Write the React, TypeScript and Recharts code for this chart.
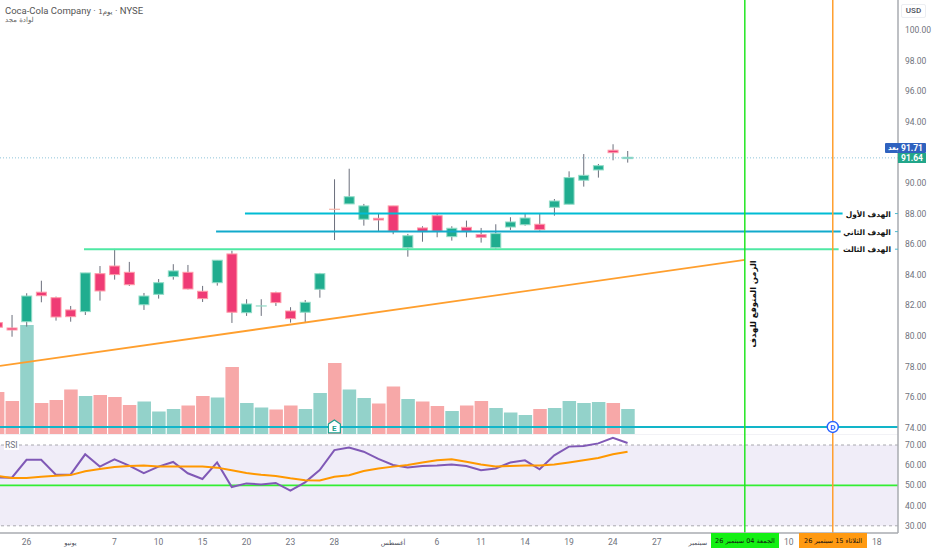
import React from 'react';
import {
  ComposedChart,
  Bar,
  Line,
  XAxis,
  YAxis,
  ReferenceLine,
  ReferenceArea,
  ReferenceDot,
} from 'recharts';

const opens = [80.87, 80.52, 80.93, 82.86, 82.50, 81.70, 81.59, 84.07, 84.57, 84.16, 82.04, 82.72, 83.88, 84.16, 82.92, 83.48, 85.36, 81.52, 81.91, 82.83, 81.63, 81.55, 83.05, 88.28, 88.63, 87.63, 87.69, 88.50, 85.77, 87.06, 87.86, 86.49, 87.10, 86.62, 85.77, 87.12, 87.27, 87.30, 88.41, 88.61, 90.18, 90.85, 92.14, 91.59];
const highs = [81.04, 81.37, 82.79, 83.61, 82.57, 81.96, 84.12, 84.57, 85.69, 84.84, 82.81, 83.72, 84.69, 84.64, 83.27, 84.95, 85.57, 82.40, 82.40, 82.89, 81.88, 82.35, 84.12, 90.24, 90.93, 88.63, 88.02, 88.50, 86.67, 87.17, 87.97, 87.17, 87.54, 87.06, 87.30, 87.76, 88.02, 88.02, 88.95, 90.76, 91.89, 91.24, 92.53, 92.09];
const lows = [80.39, 79.95, 80.61, 82.20, 81.00, 80.93, 81.37, 82.31, 83.68, 83.27, 81.70, 82.44, 83.68, 83.04, 82.22, 83.29, 80.85, 81.31, 81.31, 81.96, 80.87, 80.89, 82.50, 86.27, 88.63, 87.21, 86.86, 86.65, 85.18, 86.16, 86.45, 86.23, 86.45, 86.10, 85.71, 86.93, 87.21, 86.88, 87.86, 88.61, 89.76, 90.35, 91.48, 91.33];
const closes = [80.57, 80.39, 82.61, 82.63, 81.24, 81.26, 84.12, 82.94, 84.01, 83.35, 82.61, 83.48, 84.25, 83.07, 82.44, 84.95, 81.55, 82.09, 81.96, 82.18, 81.13, 82.20, 84.07, 88.26, 89.10, 88.50, 87.58, 86.84, 86.55, 86.82, 86.84, 87.04, 86.84, 86.45, 86.69, 87.45, 87.71, 86.95, 88.82, 90.35, 90.50, 91.13, 91.98, 91.68];
const volumes = [8.4, 6.6, 21.8, 6.2, 6.8, 8.9, 7.6, 7.8, 7.4, 5.8, 6.5, 4.5, 5, 5.7, 7.6, 7.3, 13.4, 6.2, 5.3, 4.9, 5.7, 5, 8.2, 14.2, 8.9, 7.2, 6.1, 9.5, 7, 6.5, 5.6, 4.6, 5.7, 6.6, 5.2, 4.3, 3.8, 5, 5.2, 6.6, 6.2, 6.4, 6.2, 5];
const rsi = [54, 53.8, 62.7, 62.7, 55.3, 55.3, 65.4, 59.3, 62.9, 59.8, 56.1, 59.3, 61.6, 56, 53.2, 61.4, 49.2, 51, 50.5, 51.2, 47.4, 51.5, 57.6, 67.5, 68.8, 66.7, 63.1, 60.1, 58.9, 59.6, 59.8, 60.4, 59.6, 57.5, 58.4, 61.3, 62.4, 58, 64.9, 69.2, 69.5, 70.8, 73.6, 71];
const rsiMa = [54.7, 53.7, 53.7, 54.3, 54.8, 55.1, 57, 58.1, 59.1, 59.6, 59.8, 59.4, 59.4, 59.4, 59.3, 58.8, 57.5, 56.1, 55.3, 54.7, 53.5, 52.5, 52.4, 54.3, 55, 57.1, 58.4, 59.3, 60.1, 61.3, 62.4, 62.9, 61.7, 60.4, 59.4, 59.6, 59.8, 59.8, 60.3, 61.3, 62.4, 63.6, 65.4, 66.7];

const priceTicks = [74, 76, 78, 80, 82, 84, 86, 88, 90, 94, 96, 98, 100];
const rsiTicks = [30, 40, 50, 60, 70];
const dateTicks = [2, 5, 8, 11, 14, 17, 20, 23, 27, 30, 33, 36, 39, 42, 45, 47.8, 54, 60];
const dateLabels = ['26', 'يونيو', '7', '10', '15', '20', '23', '28', 'أغسطس', '6', '11', '14', '19', '24', '27', 'سبتمبر', '10', '18'];

const targetPrices = [88.0, 86.82, 85.67];
const targetStarts = [16.9, 14.93, 5.92];
const targetEnds = [57.67, 57.54, 57.4];
const targetNames = ['الهدف الأول', 'الهدف الثاني', 'الهدف الثالث'];
const targetColors = ['#00bcd4', '#12aacb', '#4fe8a4'];

const data = opens.map((open, i) => ({
  i,
  open,
  high: highs[i],
  low: lows[i],
  close: closes[i],
  range: [lows[i], highs[i]],
  volume: volumes[i],
  rsi: rsi[i],
  rsiMa: rsiMa[i],
}));

const UP = '#20ad8f';
const DOWN = '#ef3b75';
const AXIS = '#a9abb0';
const LABEL = '#6f737d';
const LATIN = 'Roboto, sans-serif';
const ARABIC = '"DejaVu Sans", sans-serif';
const X_DOMAIN: [number, number] = [0.19, 61.45];

function Candle(props: any) {
  const { x, y, width, height, payload } = props;
  const scale = height / (payload.high - payload.low);
  const up = payload.close >= payload.open;
  const top = y + (payload.high - Math.max(payload.open, payload.close)) * scale;
  const bodyH = Math.abs(payload.open - payload.close) * scale;
  const cx = x + width / 2;
  const doji = bodyH < 1.2;
  return (
    <g>
      <line x1={cx} x2={cx} y1={y} y2={y + height} stroke="#6b6f7c" strokeWidth={1} />
      {doji ? (
        <line x1={x} x2={x + width} y1={top} y2={top} stroke={up ? '#8fd8c4' : '#f7b3a8'} strokeWidth={1.2} />
      ) : (
        <rect
          x={x + 0.5}
          y={top}
          width={width - 1}
          height={bodyH}
          fill={up ? UP : DOWN}
          stroke={up ? '#93dcc8' : '#ff9aa8'}
          strokeWidth={1}
        />
      )}
    </g>
  );
}

function VolumeBar(props: any) {
  const { x, y, width, height, payload } = props;
  return (
    <rect x={x} y={y} width={width} height={height} fill={payload.close >= payload.open ? '#93d2ca' : '#f7a8a8'} />
  );
}

function DateTick({ x, y, payload }: any) {
  const label = dateLabels[dateTicks.indexOf(payload.value)];
  const isMonth = Number.isNaN(Number(label));
  return (
    <text
      x={x}
      y={y + 6}
      textAnchor="middle"
      fontFamily={isMonth ? ARABIC : LATIN}
      fontSize={isMonth ? 6.5 : 8.5}
      fill={isMonth ? '#4a4e59' : LABEL}
    >
      {label}
    </text>
  );
}

function TargetLabel(props: any) {
  const { cx, cy, name } = props;
  return (
    <g>
      <text x={cx} y={cy + 3} textAnchor="end" fontFamily={ARABIC} fontSize={7.5} fontWeight={700} fill="#111">
        {name}
      </text>
      <line x1={cx + 4} x2={cx + 7} y1={cy} y2={cy} stroke="#4fb8cc" strokeWidth={1} />
    </g>
  );
}

function EarningsMark({ cx, cy }: any) {
  const d = `M${cx - 6} ${cy - 3} L${cx} ${cy - 7} L${cx + 6} ${cy - 3} L${cx + 6} ${cy + 6} L${cx - 6} ${cy + 6} Z`;
  return (
    <g>
      <path d={d} fill="#fff" stroke="#19a08f" strokeWidth={1.2} />
      <text x={cx} y={cy + 4} textAnchor="middle" fontFamily={LATIN} fontSize={8} fontWeight={700} fill="#19a08f">
        E
      </text>
    </g>
  );
}

function DividendMark({ cx, cy }: any) {
  return (
    <g>
      <circle cx={cx} cy={cy} r={5.5} fill="#fff" stroke="#2962ff" strokeWidth={1.4} />
      <text x={cx} y={cy + 3} textAnchor="middle" fontFamily={LATIN} fontSize={8} fontWeight={700} fill="#2962ff">
        D
      </text>
    </g>
  );
}

function RotatedNote({ cx, cy }: any) {
  return (
    <text
      x={cx}
      y={cy}
      transform={`rotate(-90 ${cx} ${cy})`}
      textAnchor="middle"
      dominantBaseline="middle"
      fontFamily={ARABIC}
      fontSize={8.3}
      fontWeight={700}
      fill="#111"
    >
      الزمن المتوقع للهدف
    </text>
  );
}

const tagStyle: React.CSSProperties = {
  position: 'absolute',
  color: '#fff',
  fontFamily: LATIN,
  fontSize: 8.5,
  fontWeight: 700,
  display: 'flex',
  alignItems: 'center',
  justifyContent: 'space-between',
  boxSizing: 'border-box',
  padding: '0 3px',
};

const dateTagStyle: React.CSSProperties = {
  position: 'absolute',
  top: 533,
  height: 15,
  color: '#111',
  fontFamily: ARABIC,
  fontSize: 6.5,
  display: 'flex',
  alignItems: 'center',
  justifyContent: 'center',
  whiteSpace: 'nowrap',
};

export default function App() {
  return (
    <div style={{ position: 'absolute', left: 0, top: 0, width: 932, height: 550, background: '#fff', overflow: 'hidden' }}>
      {/* volume sits in its own layer so its bars don't share a band with the candles */}
      <div style={{ position: 'absolute', left: 0, top: 0 }}>
        <ComposedChart width={932} height={434} data={data} margin={{ top: 0, right: 34, bottom: 0, left: 0 }}>
          <XAxis dataKey="i" type="number" domain={X_DOMAIN} allowDataOverflow hide />
          <YAxis hide domain={[0, 86.8]} allowDataOverflow />
          <Bar dataKey="volume" barSize={13.5} isAnimationActive={false} shape={<VolumeBar />} />
        </ComposedChart>
      </div>

      <div style={{ position: 'absolute', left: 0, top: 0 }}>
        <ComposedChart width={932} height={434} data={data} margin={{ top: 0, right: 0, bottom: 0, left: 0 }}>
          <XAxis dataKey="i" type="number" domain={X_DOMAIN} allowDataOverflow hide />
          <YAxis
            yAxisId="price"
            orientation="right"
            width={34}
            domain={[73.59, 101.96]}
            allowDataOverflow
            ticks={priceTicks}
            interval={0}
            tickFormatter={(v: number) => v.toFixed(2)}
            tick={{ fontSize: 8.5, fill: LABEL, fontFamily: LATIN }}
            tickLine={false}
            tickMargin={1}
            axisLine={{ stroke: AXIS, strokeWidth: 1.5 }}
          />
          <Bar yAxisId="price" dataKey="range" barSize={11} isAnimationActive={false} shape={<Candle />} />
          <ReferenceLine yAxisId="price" y={91.64} stroke="#8fc4da" strokeDasharray="1 2" />
          <ReferenceLine yAxisId="price" y={74.05} stroke="#12b5c9" strokeWidth={2} />
          <ReferenceLine
            yAxisId="price"
            stroke="#ff9f2e"
            strokeWidth={1.8}
            segment={[{ x: 0.19, y: 78.04 }, { x: 51, y: 84.97 }]}
          />
          {targetPrices.map((p, k) => (
            <ReferenceLine
              key={k}
              yAxisId="price"
              stroke={targetColors[k]}
              strokeWidth={2}
              segment={[{ x: targetStarts[k], y: p }, { x: targetEnds[k], y: p }]}
            />
          ))}
          <ReferenceLine yAxisId="price" x={51} stroke="#22e622" strokeWidth={1.5} />
          <ReferenceLine yAxisId="price" x={57} stroke="#ff9f2e" strokeWidth={1.5} />
          {targetPrices.map((p, k) => (
            <ReferenceDot
              key={k}
              yAxisId="price"
              x={60.97}
              y={p}
              shape={(s: any) => <TargetLabel cx={s.cx} cy={s.cy} name={targetNames[k]} />}
            />
          ))}
          <ReferenceDot yAxisId="price" x={23} y={74.05} shape={<EarningsMark />} />
          <ReferenceDot yAxisId="price" x={57} y={74.05} shape={<DividendMark />} />
          <ReferenceDot yAxisId="price" x={51.6} y={82.09} shape={<RotatedNote />} />
        </ComposedChart>
      </div>

      <div style={{ position: 'absolute', left: 0, top: 434 }}>
        <ComposedChart width={932} height={116} data={data} margin={{ top: 0, right: 0, bottom: 0, left: 0 }}>
          <XAxis
            dataKey="i"
            type="number"
            domain={X_DOMAIN}
            allowDataOverflow
            ticks={dateTicks}
            interval={0}
            height={17}
            tick={<DateTick />}
            tickLine={false}
            tickMargin={0}
            axisLine={{ stroke: AXIS, strokeWidth: 1.5 }}
          />
          <YAxis
            orientation="right"
            width={34}
            domain={[26.44, 75.45]}
            allowDataOverflow
            ticks={rsiTicks}
            interval={0}
            tickFormatter={(v: number) => v.toFixed(2)}
            tick={{ fontSize: 8.5, fill: LABEL, fontFamily: LATIN }}
            tickLine={false}
            tickMargin={1}
            axisLine={{ stroke: AXIS, strokeWidth: 1.5 }}
          />
          <ReferenceArea y1={30} y2={70} fill="#f0edf8" fillOpacity={1} stroke="none" />
          <ReferenceLine y={75.45} stroke="#e6e6ee" />
          <ReferenceLine y={70} stroke="#a8a8ae" strokeDasharray="3 3" />
          <ReferenceLine y={30} stroke="#a8a8ae" strokeDasharray="3 3" />
          <ReferenceLine y={50} stroke="#33ee33" strokeWidth={1.8} />
          <Line dataKey="rsi" stroke="#8059b6" strokeWidth={2} dot={false} isAnimationActive={false} />
          <Line dataKey="rsiMa" stroke="#ff9800" strokeWidth={2} dot={false} isAnimationActive={false} />
          <ReferenceLine x={51} stroke="#22e622" strokeWidth={1.5} />
          <ReferenceLine x={57} stroke="#ff9f2e" strokeWidth={1.5} />
        </ComposedChart>
      </div>

      <div style={{ position: 'absolute', left: 5, top: 5, fontFamily: LATIN, fontSize: 9.5, color: '#555', whiteSpace: 'nowrap' }}>
        Coca-Cola Company · <span style={{ fontFamily: ARABIC, fontSize: 7 }}>1يوم</span> · NYSE
      </div>
      <div style={{ position: 'absolute', left: 5, top: 16, fontFamily: ARABIC, fontSize: 7, color: '#666', whiteSpace: 'nowrap' }}>
        لوادة مجد
      </div>
      <div style={{ position: 'absolute', left: 4, top: 440, padding: '0 1px', background: '#fff', fontFamily: LATIN, fontSize: 8.5, color: LABEL }}>
        RSI
      </div>
      <div
        style={{
          position: 'absolute',
          left: 901,
          top: 4,
          width: 25,
          height: 14,
          border: '1px solid #eceef2',
          borderRadius: 2,
          boxSizing: 'border-box',
          textAlign: 'center',
          lineHeight: '12px',
          fontFamily: LATIN,
          fontSize: 8,
          fontWeight: 500,
          color: '#4a4e59',
        }}
      >
        USD
      </div>
      <div style={{ ...tagStyle, left: 885, top: 143, width: 41, height: 9.5, background: '#2f62bf', borderRadius: 1 }}>
        <span style={{ fontFamily: ARABIC, fontSize: 7 }}>بعد</span>
        <span>91.71</span>
      </div>
      <div style={{ ...tagStyle, left: 898, top: 152.5, width: 28, height: 10.5, background: '#22a68a' }}>
        <span>91.64</span>
      </div>
      <div style={{ ...dateTagStyle, left: 711, width: 68, background: '#14f014' }}>الجمعة 04 سبتمبر 26</div>
      <div style={{ ...dateTagStyle, left: 799, width: 68, background: '#ff9a12' }}>الثلاثاء 15 سبتمبر 26</div>
    </div>
  );
}
